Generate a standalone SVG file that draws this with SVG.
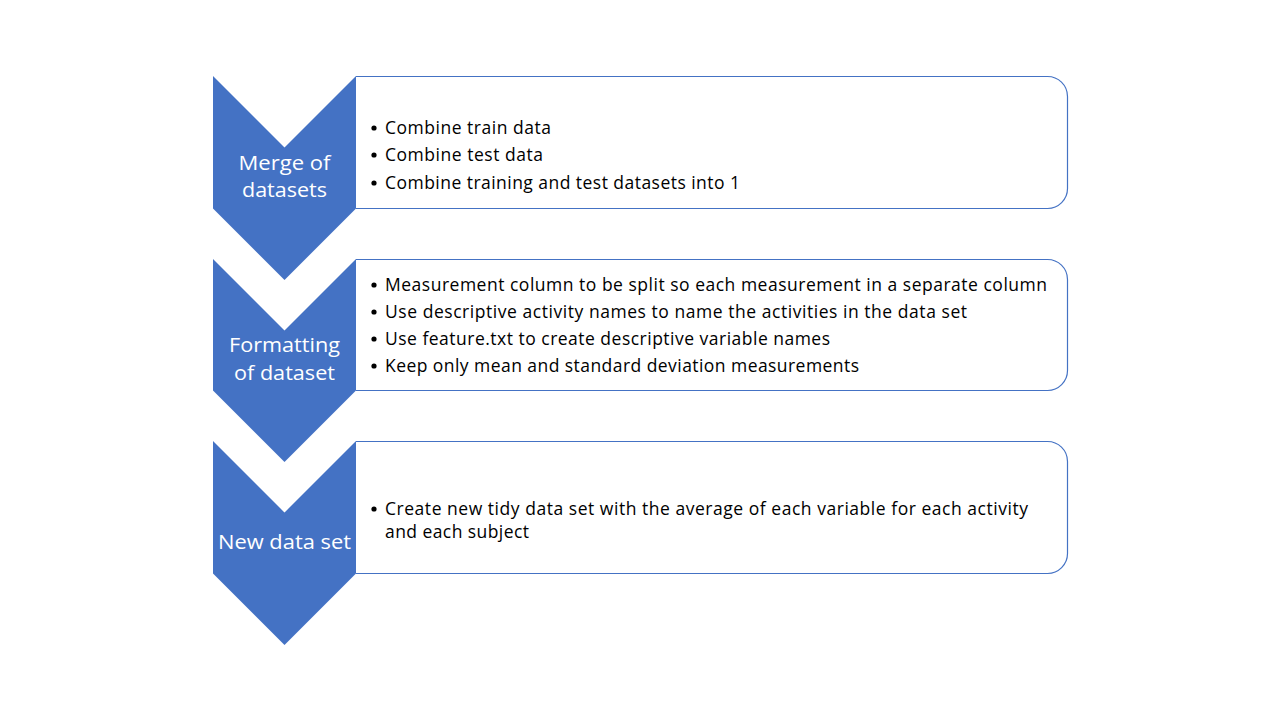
<svg xmlns="http://www.w3.org/2000/svg" width="1280" height="720" viewBox="0 0 1280 720">
<style>
.box{fill:#fff;stroke:#4472C4;stroke-width:1.2}
.chev{fill:#4472C4}
.lbl{font-family:"Open Sans","Noto Sans","DejaVu Sans",sans-serif;font-size:19.8px;fill:#fff;text-anchor:middle}
.item{font-family:"Open Sans","Noto Sans","DejaVu Sans",sans-serif;font-size:17.5px;fill:#000}
.dot{fill:#000}
</style>
<rect width="1280" height="720" fill="#fff"/>
<g id="connectors"></g>
<g id="step1">
<path class="box" d="M356,76.5 H1047 A20,20 0 0 1 1067.5,96.5 V188 A20,20 0 0 1 1047,208.5 H356"/>
<polygon class="chev" points="213,76 284.5,147.5 356,76 356,208.5 284.5,280 213,208.5"/>
<text class="lbl" x="284.5" y="170" textLength="92" lengthAdjust="spacingAndGlyphs">Merge of</text>
<text class="lbl" x="284.5" y="197" textLength="85" lengthAdjust="spacingAndGlyphs">datasets</text>
<circle class="dot" cx="374" cy="128" r="2.6"/>
<circle class="dot" cx="374" cy="155" r="2.6"/>
<circle class="dot" cx="374" cy="183" r="2.6"/>
<text class="item" x="385" y="134" textLength="166" lengthAdjust="spacing">Combine train data</text>
<text class="item" x="385" y="161" textLength="158" lengthAdjust="spacing">Combine test data</text>
<text class="item" x="385" y="188.5" textLength="355" lengthAdjust="spacing">Combine training and test datasets into 1</text>
</g>
<g id="step2">
<path class="box" d="M356,259.5 H1047 A20,20 0 0 1 1067.5,279.5 V370 A20,20 0 0 1 1047,390.5 H356"/>
<polygon class="chev" points="213,259 284.5,330.5 356,259 356,390.5 284.5,462 213,390.5"/>
<text class="lbl" x="284.5" y="352" textLength="111" lengthAdjust="spacingAndGlyphs">Formatting</text>
<text class="lbl" x="284.5" y="380" textLength="101" lengthAdjust="spacingAndGlyphs">of dataset</text>
<circle class="dot" cx="374" cy="285" r="2.6"/>
<circle class="dot" cx="374" cy="312" r="2.6"/>
<circle class="dot" cx="374" cy="339" r="2.6"/>
<circle class="dot" cx="374" cy="366" r="2.6"/>
<text class="item" x="385" y="290.5" textLength="662" lengthAdjust="spacing">Measurement column to be split so each measurement in a separate column</text>
<text class="item" x="385" y="317.5" textLength="582" lengthAdjust="spacing">Use descriptive activity names to name the activities in the data set</text>
<text class="item" x="385" y="344.5" textLength="445" lengthAdjust="spacing">Use feature.txt to create descriptive variable names</text>
<text class="item" x="385" y="371.5" textLength="474" lengthAdjust="spacing">Keep only mean and standard deviation measurements</text>
</g>
<g id="step3">
<path class="box" d="M356,441.5 H1047 A20,20 0 0 1 1067.5,461.5 V553 A20,20 0 0 1 1047,573.5 H356"/>
<polygon class="chev" points="213,441 284.5,512.5 356,441 356,573.5 284.5,645 213,573.5"/>
<text class="lbl" x="284.5" y="549" textLength="133" lengthAdjust="spacingAndGlyphs">New data set</text>
<circle class="dot" cx="374" cy="509" r="2.6"/>
<text class="item" x="385" y="514.5" textLength="643" lengthAdjust="spacing">Create new tidy data set with the average of each variable for each activity</text>
<text class="item" x="385" y="537.5" textLength="144" lengthAdjust="spacing">and each subject</text>
</g>
</svg>
